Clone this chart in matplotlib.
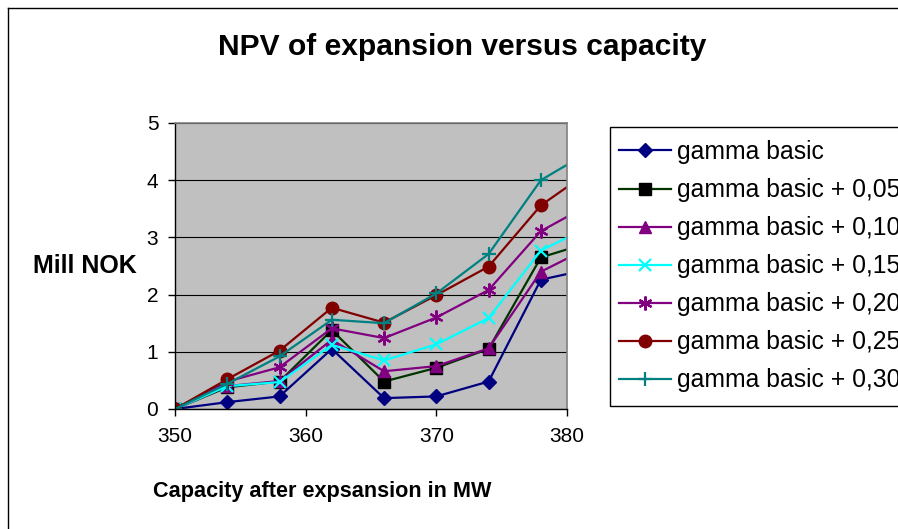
import matplotlib
matplotlib.use("Agg")
import matplotlib.pyplot as plt
from matplotlib.lines import Line2D
from matplotlib.patches import Rectangle

plt.rcParams['font.family'] = ['Liberation Sans', 'DejaVu Sans']

capacity = [350, 354, 358, 362, 366, 370, 374, 378, 382]
series_names = ["gamma basic", "gamma basic + 0,05", "gamma basic + 0,10",
                "gamma basic + 0,15", "gamma basic + 0,20", "gamma basic + 0,25",
                "gamma basic + 0,30"]
g000 = [0, 0.12, 0.22, 1.05, 0.19, 0.22, 0.48, 2.26, 2.46]
g005 = [0, 0.38, 0.48, 1.38, 0.48, 0.72, 1.05, 2.65, 2.93]
g010 = [0, 0.40, 0.49, 1.21, 0.66, 0.75, 1.06, 2.40, 2.86]
g015 = [0, 0.40, 0.47, 1.12, 0.85, 1.13, 1.59, 2.77, 3.22]
g020 = [0, 0.48, 0.73, 1.41, 1.24, 1.60, 2.08, 3.11, 3.61]
g025 = [0, 0.52, 1.02, 1.77, 1.51, 1.99, 2.49, 3.56, 4.20]
g030 = [0, 0.44, 0.92, 1.56, 1.50, 2.02, 2.71, 4.00, 4.54]
values = [g000, g005, g010, g015, g020, g025, g030]

line_colors = ['#000080', '#003300', '#800080', '#00FFFF', '#800080', '#800000', '#008080']
face_colors = ['#000080', '#000000', '#800080', '#00FFFF', '#800080', '#800000', '#008080']
markers = ['D', 's', '^', 'x', (6, 2, 0), 'o', '+']
msizes = [7, 8, 9, 9, 10, 9, 10]

fig = plt.figure(figsize=(8.98, 5.29), dpi=100)
W, H = 898, 529
ax = fig.add_axes([175 / W, 1 - 409 / H, (567 - 175) / W, (409 - 123) / H])
ax.set_facecolor('#C0C0C0')

for name, vals, lc, fc, m, ms in zip(series_names, values, line_colors, face_colors, markers, msizes):
    ax.plot(capacity, vals, color=lc, lw=1.6, marker=m, markersize=ms,
            markerfacecolor=fc, markeredgecolor=fc,
            markeredgewidth=1.6 if m in ('x', '+', (6, 2, 0)) else 1.0,
            label=name, clip_on=True)

ax.set_xlim(350, 380)
ax.set_ylim(0, 5)
ax.set_xticks([350, 360, 370, 380])
ax.set_yticks([0, 1, 2, 3, 4, 5])
ax.yaxis.grid(True, color='#000000', lw=0.8)
ax.set_axisbelow(True)
for s in ['top', 'right']:
    ax.spines[s].set_color('#808080')
    ax.spines[s].set_linewidth(1.2)
for s in ['left', 'bottom']:
    ax.spines[s].set_color('#000000')
    ax.spines[s].set_linewidth(1.0)
ax.tick_params(axis='both', direction='out', length=5, width=1, colors='black', labelsize=15)
ax.tick_params(axis='x', pad=8)
ax.tick_params(axis='y', pad=7)

fig.text(462.5 / W, 1 - 55 / H, "NPV of expansion versus capacity", ha='center', va='baseline',
         fontsize=21.6, fontweight='bold')
fig.text(322.5 / W, 1 - 497 / H, "Capacity after expsansion in MW", ha='center', va='baseline',
         fontsize=15.6, fontweight='bold')
fig.text(33 / W, 1 - 273 / H, "Mill NOK", ha='left', va='baseline',
         fontsize=18, fontweight='bold')

# legend box (extends past the right edge of the picture, as in the reference)
fig.add_artist(Rectangle((610 / W, 1 - 406 / H), 400 / W, (406 - 127) / H, transform=fig.transFigure,
                         facecolor='white', edgecolor='black', lw=1.0))
leg = fig.legend(loc='upper left', bbox_to_anchor=(610 / W, 1 - 131 / H),
                 bbox_transform=fig.transFigure,
                 fontsize=17.8, frameon=False, borderpad=0.37, labelspacing=0.567,
                 handlelength=2.1, handletextpad=0.25, borderaxespad=0, numpoints=1)

fig.add_artist(Line2D([7.5 / W, 7.5 / W], [0, 1 - 7.5 / H], transform=fig.transFigure, color='black', lw=1.0))
fig.add_artist(Line2D([7.5 / W, 1], [1 - 7.5 / H, 1 - 7.5 / H], transform=fig.transFigure, color='black', lw=1.0))

fig.savefig('out.png', dpi=100)
